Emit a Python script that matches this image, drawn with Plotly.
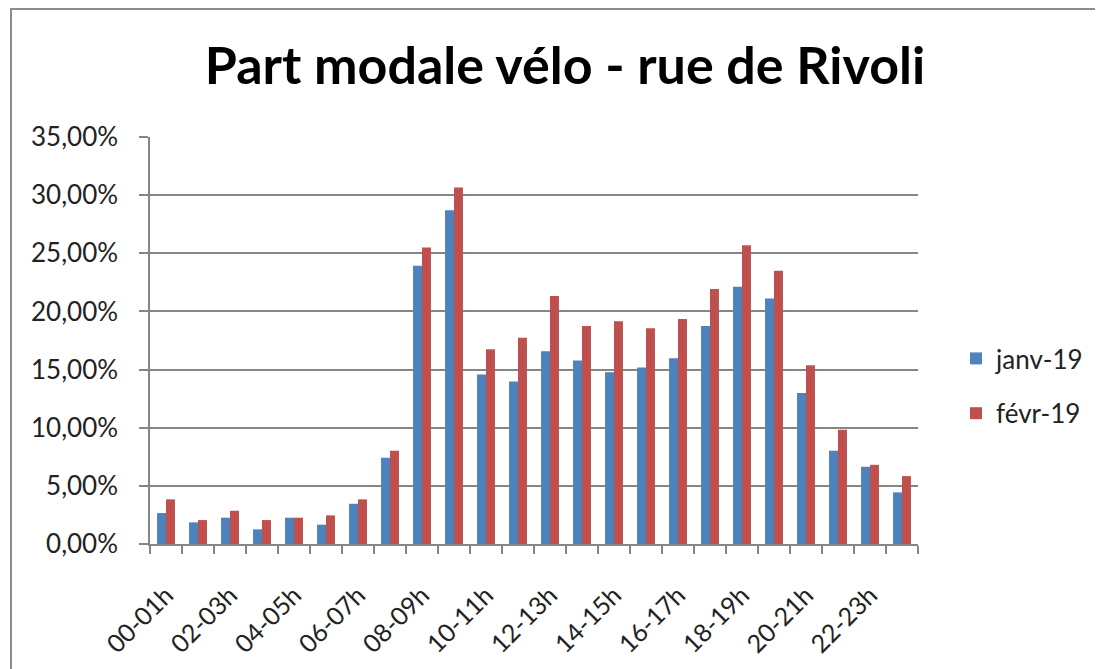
import plotly.graph_objects as go

hours = ["00-01h", "01-02h", "02-03h", "03-04h", "04-05h", "05-06h", "06-07h", "07-08h",
         "08-09h", "09-10h", "10-11h", "11-12h", "12-13h", "13-14h", "14-15h", "15-16h",
         "16-17h", "17-18h", "18-19h", "19-20h", "20-21h", "21-22h", "22-23h", "23-00h"]

janv_19 = [0.0266, 0.0186, 0.0226, 0.0126, 0.0226, 0.0166, 0.0346, 0.0741,
           0.2393, 0.2870, 0.1457, 0.1397, 0.1657, 0.1577, 0.1477, 0.1517,
           0.1597, 0.1875, 0.2212, 0.2112, 0.1299, 0.0801, 0.0664, 0.0444]

fevr_19 = [0.0384, 0.0206, 0.0286, 0.0206, 0.0226, 0.0246, 0.0384, 0.0801,
           0.2550, 0.3065, 0.1674, 0.1774, 0.2132, 0.1875, 0.1915, 0.1855,
           0.1935, 0.2192, 0.2570, 0.2350, 0.1537, 0.0982, 0.0681, 0.0584]

series_names = ["janv-19", "févr-19"]
y_ticks = [0, 0.05, 0.10, 0.15, 0.20, 0.25, 0.30, 0.35]

x_pos = list(range(len(hours)))
label_pos = x_pos[::2]
label_text = hours[::2]

FONT = "Lato, 'Liberation Sans', sans-serif"
GRID = "#868686"
OFF = 8  # page body margin

fig = go.Figure()
fig.add_trace(go.Bar(x=x_pos, y=janv_19, name=series_names[0], marker_color="#4F81BD",
                     legendgroup="a", marker_line_width=0))
fig.add_trace(go.Bar(x=x_pos, y=fevr_19, name=series_names[1], marker_color="#C0504D",
                     legendgroup="b", marker_line_width=0))

W, H = 1103, 669
L, R, T, B = 150 - OFF, 918 - OFF, 137 - OFF, 544 - OFF

def px(x):
    return (x - OFF - L) / (R - L)

def py(y):
    return (B - (y - OFF)) / (B - T)

fig.update_layout(
    width=W, height=H,
    margin=dict(l=L, r=W - R, t=T, b=H - B, pad=0, autoexpand=False),
    paper_bgcolor="white", plot_bgcolor="white",
    separators=", ",
    barmode="group", bargap=0.44, bargroupgap=0,
    font=dict(family=FONT, color="#222222", size=26),
    title=dict(text="<b>Part modale vélo - rue de Rivoli</b>", x=(565 - OFF) / W, xanchor="center",
               y=1 - (66 - OFF) / H, yanchor="middle",
               font=dict(family=FONT, size=52, color="#000000")),
    showlegend=True,
    legend=dict(x=px(956), xanchor="left", y=py(386), yanchor="middle",
                traceorder="grouped", tracegroupgap=18,
                font=dict(family=FONT, size=26, color="#222222"),
                bgcolor="rgba(0,0,0,0)"),
    shapes=[dict(type="rect", xref="paper", yref="paper",
                 x0=px(11), x1=px(1125), y0=py(9), y1=py(700),
                 line=dict(color="#8c8c8c", width=2), fillcolor="rgba(0,0,0,0)", layer="below")],
)

fig.update_xaxes(
    range=[-0.5, len(hours) - 0.5], automargin=False,
    tickmode="array", tickvals=label_pos, ticktext=label_text,
    tickangle=-45, ticks="", ticklen=0, ticklabelstandoff=25,
    tickfont=dict(family=FONT, size=25, color="#222222"),
    showline=True, linecolor=GRID, linewidth=1.5,
    showgrid=False, zeroline=False,
    minor=dict(tickmode="linear", tick0=-0.5, dtick=1, ticks="outside", ticklen=8,
               tickcolor=GRID, tickwidth=1.5, showgrid=False),
)

fig.update_yaxes(
    range=[0, 0.35], automargin=False,
    tickmode="array", tickvals=y_ticks, tickformat=".2%",
    ticks="outside", ticklen=9, tickcolor=GRID, tickwidth=1.5,
    ticklabelstandoff=16,
    tickfont=dict(family=FONT, size=26, color="#222222"),
    showline=True, linecolor=GRID, linewidth=1.5,
    showgrid=True, gridcolor=GRID, gridwidth=1.5, zeroline=False,
)

fig.write_html("out.html")
